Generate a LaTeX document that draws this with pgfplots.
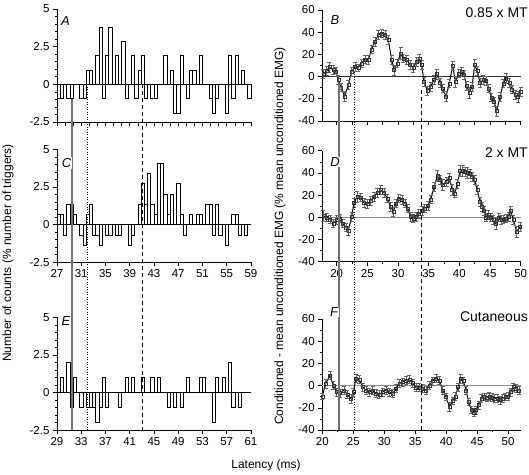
\documentclass[border=0pt]{standalone}
\usepackage{pgfplots}
\pgfplotsset{compat=1.18}
\usepackage{fontspec}
\setmainfont{Liberation Sans}
\begin{document}
\begin{tikzpicture}
\path[use as bounding box] (0pt,0pt) rectangle (529pt,474pt);
\pgfplotsset{
  base/.style={scale only axis, axis lines=left, axis line style={-, line width=0.7pt},
    tick align=outside, major tick length=4pt, minor tick length=2.2pt,
    every tick/.style={black, line width=0.6pt},
    tick label style={font=\fontsize{11.5}{13}\selectfont},
    clip=false},
  leftax/.style={base, width=194pt, height=113pt, xmin=0, xmax=60, ymin=-2.5, ymax=5,
    ytick={-2.5,0,2.5,5}, yticklabels={-2.5,0,2.5,5}, minor y tick num=4},
  rightax/.style={base, width=198.4pt, height=111pt, ymin=-40, ymax=60,
    ytick={-40,-20,0,20,40,60}, yticklabels={-40,-20,0,20,40,60}, minor y tick num=1},
  hist/.style={ybar, bar width=1, fill=white, draw=black, line width=0.6pt},
  emg/.style={black, line width=1.0pt, mark=square, mark size=1.5pt,
    mark options={solid, fill=white, draw=black!80, line width=0.45pt},
    error bars/.cd, y dir=both, y explicit,
    error bar style={black!60, line width=0.55pt},
    error mark options={rotate=90, black!60, mark size=2pt, line width=0.55pt}},
}
% ---------------- A ----------------
\begin{axis}[leftax, at={(57pt,352pt)}, anchor=south west,
  xtick={0,2.5,...,60}, xticklabels={}]
\addplot[hist] coordinates {(0.5,-0.95) (1.5,-0.95) (3.5,-0.95) (4.5,-0.95) (7.5,-0.95) (8.5,-0.95) (9.5,0.95) (10.5,0.95) (12.5,1.9) (13.5,3.8) (14.5,-0.95) (15.5,1.9) (16.5,3.8) (18.5,1.9) (20.5,2.85) (21.5,-0.95) (23.5,1.9) (24.5,-0.95) (25.5,0.95) (26.5,1.9) (27.5,-0.95) (29.5,-0.95) (30.5,-0.95) (33.5,1.9) (35.5,0.95) (36.5,-1.9) (37.5,-1.9) (38.5,1.9) (40.5,-0.95) (41.5,0.95) (42.5,0.95) (44.5,1.9) (47.5,-0.95) (48.5,-1.9) (49.5,-0.95) (52.5,-1.9) (53.5,1.9) (54.5,-0.95) (55.5,1.9) (57.5,0.95) (59.5,-0.95)};
\draw[line width=0.6pt] (axis cs:0,0) -- (axis cs:60,0);
\coordinate (Ls) at (axis cs:4.63,-0.95);
\coordinate (Ld) at (axis cs:9.26,0);
\coordinate (Lq) at (axis cs:26.24,0);
\end{axis}
% ---------------- C ----------------
\begin{axis}[leftax, at={(57pt,211.7pt)}, anchor=south west,
  xtick={0,7.5,...,60}, xticklabels={27,31,35,39,43,47,51,55,59}]
\addplot[hist] coordinates {(0.5,0.68) (1.5,0.68) (2.5,-0.68) (3.5,1.36) (4.5,1.36) (5.5,0.68) (7.5,-0.68) (8.5,-1.36) (9.5,0.68) (10.5,1.36) (11.5,-0.68) (12.5,-0.68) (13.5,-1.36) (15.5,-0.68) (16.5,-0.68) (18.5,-0.68) (19.5,-0.68) (22.5,-1.36) (23.5,-0.68) (25.5,1.36) (26.5,2.72) (27.5,1.36) (28.5,3.4) (29.5,1.36) (30.5,0.68) (31.5,4.08) (32.5,4.08) (33.5,2.04) (34.5,0.68) (35.5,2.04) (37.5,2.72) (38.5,0.68) (39.5,-0.68) (41.5,0.68) (43.5,0.68) (44.5,0.68) (46.5,1.36) (47.5,1.36) (48.5,-0.68) (49.5,1.36) (50.5,-0.68) (52.5,-1.36) (54.5,0.68) (55.5,0.68) (56.5,-0.68) (58.5,-0.68)};
\draw[line width=0.6pt] (axis cs:0,0) -- (axis cs:60,0);
\end{axis}
% ---------------- E ----------------
\begin{axis}[leftax, at={(57pt,43.7pt)}, anchor=south west,
  xtick={0,7.5,...,60}, xticklabels={29,33,37,41,45,49,53,57,61}]
\addplot[hist] coordinates {(1.5,1) (3.5,2) (4.5,-1) (5.5,1) (7.5,-1) (9.5,-1) (10.5,-1) (11.5,-1) (12.5,-2) (13.5,-1) (14.5,1) (15.5,-1) (19.5,-1) (21.5,1) (23.5,1) (26.5,1) (29.5,1) (31.5,1) (34.5,-1) (36.5,-1) (38.5,-1) (40.5,1) (44.5,1) (45.5,1) (48.5,-2) (49.5,1) (51.5,1) (53.5,2) (54.5,-1) (56.5,-1)};
\draw[line width=0.6pt] (axis cs:0,0) -- (axis cs:60,0);
\coordinate (Lb) at (axis cs:0,-2.5);
\end{axis}
% ---------------- B ----------------
\begin{axis}[rightax, at={(322.3pt,353pt)}, anchor=south west,
  xmin=17.66, xmax=50, xtick={20,22.5,...,50}, xticklabels={}]
\draw[black!80, line width=0.5pt] (axis cs:17.66,0) -- (axis cs:50,0);
\addplot[emg] table[x=x, y=y, y error=e] {
x y e
17.83 2.4 4
18.37 5 4
18.80 8.5 4.5
19.46 6 4
19.89 4 4
20.27 -3 4
20.71 -9.6 4
21.30 -18 4.5
21.90 -7.5 4
22.45 4.5 4
22.99 9 4
23.53 8 3.5
24.08 12 4
24.62 15.6 3.5
25.16 15 4
25.71 24.6 4
26.25 31.5 4
26.79 37.5 4
27.34 39 4
27.88 37.5 4
28.42 33 4
28.97 15 4
29.35 6 4.5
29.89 12 4
30.43 21 5
30.87 16.5 4
31.41 15 4
31.96 10.5 4
32.50 8 4
33.04 13.5 4
33.48 16.5 4
33.86 10.5 4
34.24 -4.5 4
34.78 -12.6 4
35.33 -9 4
35.87 -3 4
36.30 2.4 4.5
36.85 -5.4 4
37.28 -10.5 4
37.83 -18 4.5
38.37 -6 4
38.91 9.6 4
39.35 -4.5 5
39.89 3 4
40.38 4.5 4
40.76 1.5 4
41.20 -8.4 4
41.63 -14.4 5
42.07 -9 4
42.50 10.5 5
42.93 5.4 4
43.37 -5.4 4
43.91 -3 4
44.35 -3.6 4
44.78 -10.5 4
45.22 -18.6 4
45.65 -22.5 4
46.09 -31 4.5
46.63 -18 4
47.17 -6 4
47.61 -1.5 4.5
48.15 -5.4 4
48.59 -11.4 4
49.13 -16.5 4
49.57 -18 5
50.00 -13.5 4
};
\coordinate (Rs) at (axis cs:20.38,-7.5);
\coordinate (Rd) at (axis cs:22.88,4.5);
\coordinate (Rq) at (axis cs:33.86,-12);
\end{axis}
% ---------------- D ----------------
\begin{axis}[rightax, at={(322.3pt,212.3pt)}, anchor=south west,
  xmin=17.66, xmax=50, xtick={20,25,...,50}, xticklabels={20,25,30,35,40,45,50}, minor x tick num=1]
\draw[black!45, line width=0.6pt] (axis cs:17.66,0) -- (axis cs:50,0);
\addplot[emg] table[x=x, y=y, y error=e] {
x y e
17.83 1.2 5
18.37 0 4
18.91 -1.8 4
19.46 -5.4 4
20.00 -2.4 4
20.54 -0.9 4
20.98 -5.4 4
21.52 -9 4
21.90 -12 4
22.45 0.6 4
22.83 13.2 4
23.37 18.6 5
23.91 18 4
24.46 13.2 4
25.00 12 4
25.54 15 4
26.09 18.6 4
26.63 22.2 4
27.17 24.6 4
27.72 22.2 4
28.26 17.1 4
28.80 9.6 4
29.24 5.1 4
29.67 12.6 4
30.11 17.1 4
30.65 15.6 4
31.14 12.6 4
31.58 8.1 4
32.07 0.6 4
32.50 -0.9 4
32.93 0.6 4
33.37 3 4
33.91 6 4
34.35 8.1 4
34.89 10.2 4
35.33 16.2 4
35.87 27.6 4
36.41 37.2 5
36.85 33.6 4
37.28 29.1 5
37.93 32.4 4
38.37 36 4
38.80 25.2 5
39.24 21.6 4
39.67 30.6 4
40.11 41.7 5
40.54 42 5
40.92 41.1 4
41.30 40.2 5
41.74 39.6 4
42.07 36.6 4
42.50 33.6 4
42.93 24.6 4
43.37 14.1 4
43.70 9.6 4
44.02 6 4
44.35 0 4
44.73 2.1 4
45.11 0 4
45.54 -2.4 4
45.98 -6 5
46.41 0 4
46.85 -2.4 4
47.17 -1.8 4
47.61 -0.9 4
48.04 0.6 4
48.37 6 4
48.80 -2.4 4
49.35 -12.9 5
49.89 -8.4 4
};
\end{axis}
% ---------------- F ----------------
\begin{axis}[rightax, at={(322.3pt,44pt)}, anchor=south west,
  xmin=20, xmax=52.04, xtick={20,25,...,50}, xticklabels={20,25,30,35,40,45,50}, minor x tick num=1]
\draw[black!45, line width=0.6pt] (axis cs:20,0) -- (axis cs:52.04,0);
\addplot[emg] table[x=x, y=y, y error=e] {
x y e
20.00 -9.6 3
20.54 1.8 4
21.24 9.3 4
21.78 0.3 3.5
22.32 -5.7 3.5
22.85 -6.6 3.5
23.50 -4.2 3.5
24.04 -7.8 3.5
24.63 -11.6 4
25.01 -5.7 3.5
25.44 6.3 3.5
25.98 5.4 3.5
26.52 -1.2 3.5
27.05 -4.2 3.5
27.59 -5.7 3.5
28.13 -4.2 3.5
28.67 -7.2 3.5
29.21 -7.8 3.5
29.75 -5.7 3.5
30.29 -4.2 3.5
30.82 -5.7 3.5
31.36 -7.2 3.5
31.90 -2.7 3.5
32.44 1.8 3.5
32.98 3.3 3.5
33.52 4.8 3.5
34.06 5.4 3.5
34.59 2.4 3.5
35.13 -1.8 3.5
35.67 -1.8 3.5
36.21 -2.7 3.5
36.75 -4.2 3.5
37.29 0.3 3.5
37.82 4.2 3.5
38.36 6.3 3.5
38.90 4.8 3.5
39.44 -4.2 3.5
39.98 -10.1 3.5
40.52 -19.1 4
41.06 -13.7 3.5
41.49 -9.6 3.5
41.92 -1.2 3.5
42.35 6.3 4
42.78 4.2 3.5
43.21 -4.2 3.5
43.64 -14.6 3.5
44.07 -21.8 3.5
44.50 -24.5 3.5
44.82 -22.1 3.5
45.26 -17.6 3.5
45.69 -11.6 3.5
46.12 -10.1 3.5
46.55 -10.7 3.5
46.98 -9.6 3.5
47.41 -10.7 3.5
47.84 -11.6 3.5
48.27 -11.6 3.5
48.70 -13.1 3.5
49.13 -11.6 3.5
49.56 -10.1 3.5
49.99 -9.6 3.5
50.43 -5.7 3.5
50.86 -1.2 3.5
51.30 -2.7 3.5
51.73 -4.2 3.5
};
\coordinate (Rb) at (axis cs:20,-40);
\end{axis}
% ---------------- reference lines ----------------
\draw[black!55, line width=1.3pt] (Ls) -- (Ls |- Lb);
\draw[black, line width=0.6pt, dash pattern=on 1pt off 1.5pt] (Ld) -- (Ld |- Lb);
\draw[black, line width=0.6pt, dash pattern=on 4pt off 3pt] (Lq) -- (Lq |- Lb);
\draw[black!55, line width=1.3pt] (Rs) -- (Rs |- Rb);
\draw[black, line width=0.6pt, dash pattern=on 1pt off 1.5pt] (Rd) -- (Rd |- Rb);
\draw[black, line width=0.6pt, dash pattern=on 4pt off 3pt] (Rq) -- (Rq |- Rb);
% ---------------- texts ----------------
\begin{scope}[every node/.style={font=\fontsize{13}{14}\selectfont\itshape, inner sep=1pt}]
\node[fill=white] at (65.5pt,453pt) {A};
\node[fill=white] at (66.5pt,311pt) {C};
\node[fill=white] at (66pt,153pt) {E};
\node[fill=white] at (335pt,454pt) {B};
\node[fill=white] at (335pt,312pt) {D};
\node[fill=white] at (334pt,162pt) {F};
\end{scope}
\begin{scope}[every node/.style={font=\fontsize{14}{16}\selectfont, anchor=east, inner sep=0pt}]
\node at (528pt,461.5pt) {0.85 x MT};
\node at (528pt,321pt) {2 x MT};
\node at (528pt,157pt) {Cutaneous};
\end{scope}
\node[rotate=90, font=\fontsize{12}{14}\selectfont] at (8pt,221pt) {Number of counts (\% number of triggers)};
\node[rotate=90, font=\fontsize{12}{14}\selectfont] at (280pt,238pt) {Conditioned - mean unconditioned EMG (\% mean unconditioned EMG)};
\node[font=\fontsize{12}{14}\selectfont] at (266pt,9pt) {Latency (ms)};
\end{tikzpicture}
\end{document}
